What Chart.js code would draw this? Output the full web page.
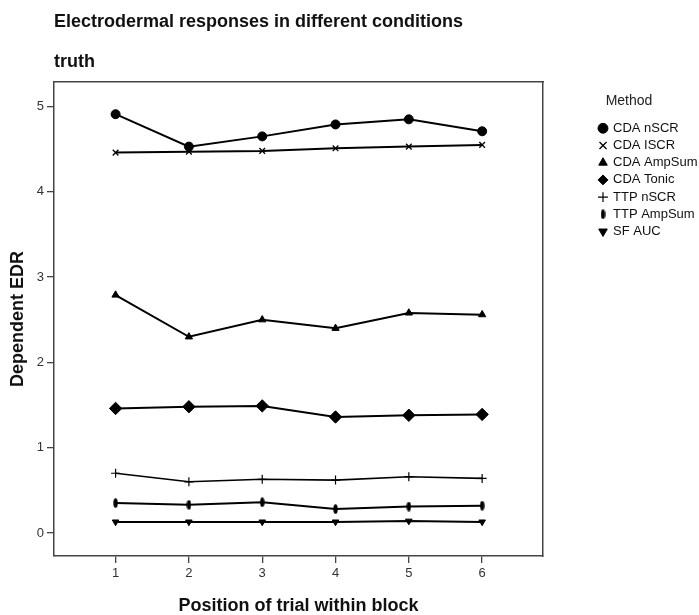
<!DOCTYPE html>
<html>
<head>
<meta charset="utf-8">
<script src="https://cdn.jsdelivr.net/npm/chart.js@4/dist/chart.umd.min.js"></script>
<style>
  html, body { margin: 0; padding: 0; background: #ffffff; }
  #wrap { width: 699px; height: 615px; }
</style>
</head>
<body>
<div id="wrap"><canvas id="c" width="699" height="615"></canvas></div>
<script>
// ---- data ----
const positions = [1, 2, 3, 4, 5, 6];
const yTickValues = [0, 1, 2, 3, 4, 5];
const seriesNames = ["CDA nSCR", "CDA ISCR", "CDA AmpSum", "CDA Tonic", "TTP nSCR", "TTP AmpSum", "SF AUC"];
const cdaNSCR   = [4.91, 4.53, 4.65, 4.79, 4.85, 4.71];
const cdaISCR   = [4.46, 4.47, 4.48, 4.51, 4.53, 4.55];
const cdaAmpSum = [2.79, 2.30, 2.50, 2.40, 2.58, 2.56];
const cdaTonic  = [1.46, 1.48, 1.49, 1.36, 1.38, 1.39];
const ttpNSCR   = [0.70, 0.60, 0.63, 0.62, 0.66, 0.64];
const ttpAmpSum = [0.35, 0.33, 0.36, 0.28, 0.31, 0.32];
const sfAUC     = [0.13, 0.13, 0.13, 0.13, 0.14, 0.13];

// vertical ellipse marker
function ellipseMarker(w, h) {
  const cv = document.createElement('canvas');
  cv.width = w; cv.height = h;
  const g = cv.getContext('2d');
  g.fillStyle = '#000';
  g.beginPath();
  g.ellipse(w / 2, h / 2, w / 2 - 0.3, h / 2 - 0.3, 0, 0, Math.PI * 2);
  g.fill();
  return cv;
}

const FONT = "'Liberation Sans', Arial, sans-serif";

function series(label, data, style, radius, extra) {
  return Object.assign({
    label: label,
    data: positions.map((x, i) => ({ x: x, y: data[i] })),
    borderColor: '#000',
    borderWidth: 2,
    backgroundColor: '#000',
    pointBackgroundColor: '#000',
    pointBorderColor: '#000',
    pointBorderWidth: 1,
    pointStyle: style,
    pointRadius: radius,
    pointHoverRadius: radius,
    fill: false,
    tension: 0
  }, extra || {});
}

const datasets = [
  series(seriesNames[0], cdaNSCR, 'circle', 4.5),
  series(seriesNames[1], cdaISCR, 'crossRot', 4, { pointBorderWidth: 1.3 }),
  series(seriesNames[2], cdaAmpSum, 'triangle', 4.2),
  series(seriesNames[3], cdaTonic, 'rectRot', 6.2),
  series(seriesNames[4], ttpNSCR, 'cross', 4.5, { pointBorderWidth: 1.2, borderWidth: 1.6 }),
  series(seriesNames[5], ttpAmpSum, ellipseMarker(5, 10), 4),
  series(seriesNames[6], sfAUC, 'triangle', 3.8, { pointRotation: 180 })
];

// let the legend's labels run to the canvas edge (the legend box itself stays narrow
// so that its title is centred like in the reference)
const widenLegendClip = {
  id: 'widenLegendClip',
  afterLayout(chart) {
    if (chart.legend) { chart.legend.right = chart.width; }
  }
};

new Chart(document.getElementById('c'), {
  type: 'line',
  data: { datasets: datasets },
  plugins: [widenLegendClip],
  options: {
    responsive: false,
    animation: false,
    events: [],
    layout: { padding: { left: 0, right: 36.3, top: 0, bottom: 0 } },
    plugins: {
      tooltip: { enabled: false },
      title: {
        display: true,
        text: 'Electrodermal responses in different conditions',
        align: 'start',
        fullSize: false,
        color: '#111',
        font: { family: FONT, size: 18, weight: 'bold' },
        padding: { top: 11, bottom: 9 }
      },
      subtitle: {
        display: true,
        text: 'truth',
        align: 'start',
        fullSize: false,
        color: '#111',
        font: { family: FONT, size: 18, weight: 'bold' },
        padding: { top: 9.4, bottom: 9.2 }
      },
      legend: {
        display: true,
        position: 'right',
        align: 'start',
        maxWidth: 67.4,
        title: {
          display: true,
          text: 'Method',
          position: 'center',
          color: '#222',
          font: { family: FONT, size: 14 },
          padding: { top: 94.4, bottom: 6.4 }
        },
        labels: {
          usePointStyle: true,
          boxWidth: 7,
          boxHeight: 7,
          padding: 4.2,
          color: '#111',
          font: { family: FONT, size: 13 }
        }
      }
    },
    scales: {
      x: {
        type: 'linear',
        position: 'bottom',
        min: 0.16,
        max: 6.83,
        afterBuildTicks: (s) => { s.ticks = positions.map(v => ({ value: v })); },
        afterFit: (s) => { s.height = 59; },
        grid: { drawOnChartArea: false, drawTicks: true, tickLength: 7, color: '#444', lineWidth: 1.3 },
        border: { display: true, color: '#444', width: 1.5 },
        ticks: { color: '#333', padding: 3, font: { family: FONT, size: 13 } },
        title: {
          display: true,
          text: 'Position of trial within block',
          color: '#111',
          font: { family: FONT, size: 18, weight: 'bold', lineHeight: 1 },
          padding: { top: 10, bottom: 0 }
        }
      },
      y: {
        type: 'linear',
        position: 'left',
        min: -0.27,
        max: 5.29,
        afterBuildTicks: (s) => { s.ticks = yTickValues.map(v => ({ value: v })); },
        afterFit: (s) => { s.width = 54; },
        grid: { drawOnChartArea: false, drawTicks: true, tickLength: 7, color: '#444', lineWidth: 1.3 },
        border: { display: true, color: '#444', width: 1.5 },
        ticks: { color: '#333', padding: 3, font: { family: FONT, size: 13 } },
        title: {
          display: true,
          text: 'Dependent EDR',
          color: '#111',
          font: { family: FONT, size: 18, weight: 'bold', lineHeight: 1 },
          padding: { top: 9.5, bottom: 0 }
        }
      },
      gapRight: {
        type: 'linear',
        position: 'right',
        display: true,
        afterFit: (s) => { s.width = 52.3; },
        grid: { display: false, drawTicks: false },
        border: { display: true, color: '#444', width: 1.5 },
        ticks: { display: false }
      },
      edgeTop: {
        type: 'linear',
        position: 'top',
        display: true,
        afterFit: (s) => { s.height = 0; },
        grid: { display: false, drawTicks: false },
        border: { display: true, color: '#444', width: 1.5 },
        ticks: { display: false }
      }
    }
  }
});
</script>
</body>
</html>
